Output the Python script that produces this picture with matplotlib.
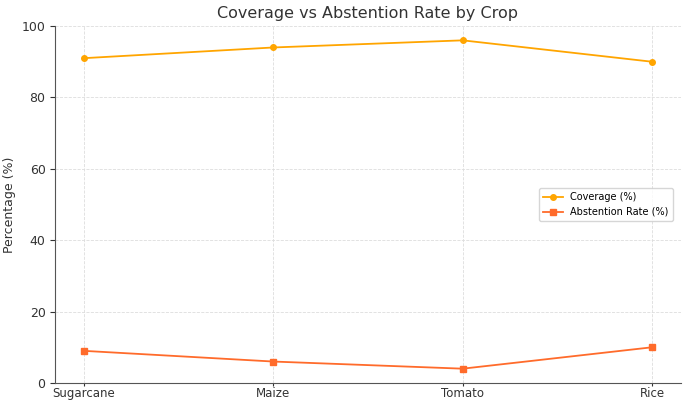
import matplotlib.pyplot as plt

crops = ['Sugarcane', 'Maize', 'Tomato', 'Rice']
coverage = [91, 94, 96, 90]
abstention = [9, 6, 4, 10]

fig = plt.figure(figsize=(6.91, 4.01), dpi=100)
ax = fig.add_axes([0.080, 0.045, 0.905, 0.890])

ax.plot(crops, coverage, marker='o', markersize=4, color='#FFA500',
        linewidth=1.3, label='Coverage (%)')
ax.plot(crops, abstention, marker='s', markersize=4, color='#FF6B2B',
        linewidth=1.3, label='Abstention Rate (%)')

ax.set_ylim(0, 100)
ax.set_title('Coverage vs Abstention Rate by Crop', fontsize=11.5, color='#333333')
ax.set_ylabel('Percentage (%)', fontsize=9, color='#333333')
ax.tick_params(labelsize=9, colors='#333333')
ax.tick_params(axis='x', length=2, pad=1, labelsize=8.5)
ax.grid(True, linestyle='--', linewidth=0.6, color='#dddddd')
for s in ['top', 'right']:
    ax.spines[s].set_visible(False)
for s in ['left', 'bottom']:
    ax.spines[s].set_color('#555555')
ax.legend(loc='center right', fontsize=7, bbox_to_anchor=(0.995, 0.5))

fig.savefig('out.png', dpi=100)
